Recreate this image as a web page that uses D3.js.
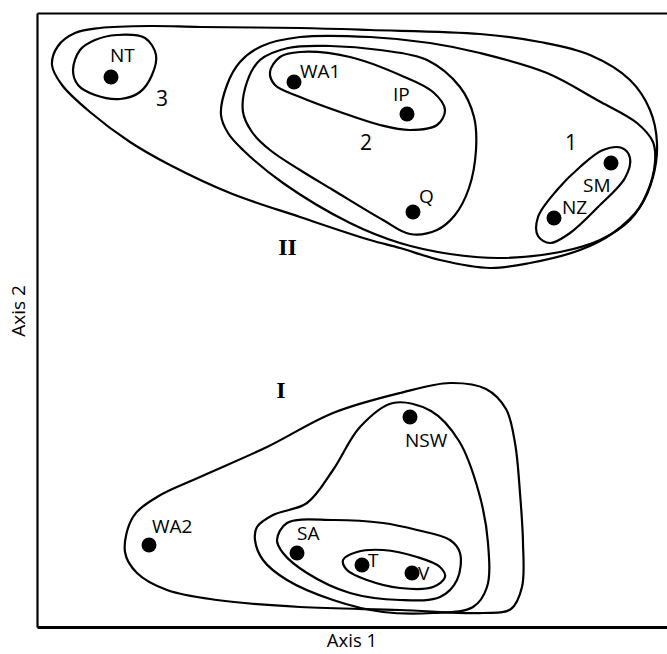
<!DOCTYPE html>
<html><head><meta charset="utf-8">
<script src="https://cdn.jsdelivr.net/npm/d3@7"></script>
<style>body{margin:0;background:#fff}svg{display:block}</style>
</head><body><svg id="c" width="667" height="654"></svg>
<script>
// ---- data (axis units) ----
const pointNames = ["NT","WA1","IP","Q","SM","NZ","NSW","WA2","SA","T","V"];
const pointX = [7.4, 25.7, 37.0, 37.6, 57.4, 51.7, 37.3, 11.2, 26.0, 32.5, 37.5];
const pointY = [55.0, 54.5, 51.3, 41.5, 46.4, 40.9, 21.0, 8.2, 7.4, 6.2, 5.4];

const loopNT = [[3.6,55.7],[4.3,57.7],[5.8,58.7],[8.0,59.2],[10.8,58.9],[11.9,57.2],[11.5,55.2],[10.3,53.5],[8.3,52.8],[5.8,53.2],[4.1,54.2]];
const loop3 = [[1.5,56.2],[2.1,58.1],[3.8,59.4],[6.3,59.9],[11.3,60.1],[16.3,60.0],[26.3,59.9],[33.3,59.7],[44.3,59.3],[50.3,58.5],[55.3,57.2],[59.3,54.7],[61.3,51.7],[62.0,48.4],[61.6,45.0],[60.3,42.0],[57.6,39.4],[54.3,37.7],[49.3,36.4],[45.3,35.9],[40.3,36.7],[36.3,37.9],[33.3,38.7],[26.3,41.0],[19.3,43.4],[13.3,46.2],[9.3,48.5],[5.3,51.5],[2.5,54.2]];
const loopII = [[18.4,51.2],[19.0,54.2],[20.3,56.5],[22.5,58.1],[26.3,59.0],[33.3,59.0],[39.3,58.4],[44.3,57.4],[51.0,55.4],[56.0,52.7],[60.0,50.4],[61.6,48.5],[61.8,46.5],[61.0,43.4],[59.3,40.7],[56.3,38.7],[52.3,37.5],[46.3,36.9],[41.3,37.3],[36.3,38.4],[31.3,40.4],[24.6,44.4],[20.6,47.7],[19.1,49.4]];
const loop2 = [[20.6,51.5],[21.0,54.5],[22.3,56.7],[25.1,57.9],[29.3,58.1],[34.3,57.7],[39.0,56.7],[42.3,54.0],[43.7,51.0],[43.9,47.7],[43.2,43.9],[41.8,41.2],[40.0,39.7],[37.3,39.3],[34.6,40.7],[29.6,43.7],[26.3,45.7],[23.3,47.7],[21.5,49.5]];
const loopWA1IP = [[23.3,55.5],[24.3,57.0],[26.3,57.5],[31.3,57.0],[36.3,55.2],[39.6,53.5],[40.8,51.7],[40.0,50.2],[37.3,49.7],[34.3,50.2],[30.3,51.5],[26.3,53.0],[23.8,54.2]];
const loop1 = [[56.6,47.7],[58.5,47.9],[59.3,46.9],[58.8,44.9],[56.1,42.0],[53.3,39.4],[51.3,38.4],[50.1,39.1],[50.1,41.0],[52.0,43.7],[54.3,46.0]];
const loopI = [[8.8,7.5],[9.6,11.0],[12.0,13.0],[16.3,15.0],[23.0,18.0],[29.6,21.4],[36.3,23.4],[41.3,24.4],[44.9,23.8],[46.9,21.8],[47.8,18.4],[48.3,13.4],[48.6,8.4],[48.5,4.0],[47.4,1.8],[44.6,1.4],[36.3,1.7],[26.3,2.0],[18.0,2.7],[13.0,3.7],[10.0,5.4]];
const loopNSW = [[35.6,22.4],[39.4,21.6],[42.2,18.6],[44.2,13.4],[45.1,8.4],[45.0,4.0],[43.6,2.0],[39.6,1.4],[34.6,1.5],[29.6,2.7],[25.0,4.7],[22.6,6.7],[21.8,8.7],[22.0,10.0],[23.6,11.2],[27.0,12.4],[29.6,15.7],[32.3,20.0]];
const loopSA = [[25.0,10.4],[29.6,10.7],[34.6,10.4],[38.0,9.7],[41.3,8.7],[42.3,7.4],[42.0,4.7],[40.3,3.0],[36.3,2.7],[31.3,3.4],[27.0,5.4],[24.6,7.4],[24.0,8.7]];
const loopTV = [[30.6,6.7],[32.0,7.5],[34.6,7.7],[38.0,7.0],[40.3,6.0],[40.8,5.0],[39.6,4.0],[36.3,3.9],[33.0,4.7],[31.0,5.7]];

const groupLabels = ["3","2","1","II","I"];
const groupLabelX = [12.5, 32.9, 53.4, 25.05, 24.4];
const groupLabelY = [52.1, 47.7, 47.7, 37.2, 22.9];

const axisTitles = ["Axis 1","Axis 2"];

// ---- styling ----
const labelOffset = {NT:[-1,-15],WA1:[6,-4],IP:[-14,-13],Q:[6,-9],SM:[-28,29],NZ:[8,-4],NSW:[-5,30],WA2:[3,-12],SA:[0,-13],T:[6,2],V:[6,7]};
const groupStyle = {"3":"num","2":"num","1":"num","II":"roman","I":"roman"};

const svg = d3.select("#c");
const x = d3.scaleLinear().domain([0,63]).range([37,667]);
const y = d3.scaleLinear().domain([0,61.4]).range([627,13]);

// frame
const gL = svg.append("g").attr("transform","translate(37,0)")
  .call(d3.axisLeft(y).tickValues([]).tickSizeOuter(0));
const gT = svg.append("g").attr("transform","translate(0,13)")
  .call(d3.axisTop(x).tickValues([]).tickSizeOuter(0));
const gB = svg.append("g").attr("transform","translate(0,627)")
  .call(d3.axisBottom(x).tickValues([]).tickSizeOuter(0));
gL.select(".domain").attr("stroke","#000").attr("stroke-width",2.2);
gT.select(".domain").attr("stroke","#000").attr("stroke-width",2.2);
gB.select(".domain").attr("stroke","#000").attr("stroke-width",3.2);

// contours
const line = d3.line().x(d=>x(d[0])).y(d=>y(d[1])).curve(d3.curveCatmullRomClosed.alpha(0.5));
const loops = [loop3, loopII, loop2, loopWA1IP, loop1, loopNT, loopI, loopNSW, loopSA, loopTV];
svg.append("g").selectAll("path").data(loops).join("path")
  .attr("d", line).attr("fill","none").attr("stroke","#000").attr("stroke-width",2.2);

// points
const pts = pointNames.map((n,i)=>({n, x:pointX[i], y:pointY[i]}));
svg.append("g").selectAll("circle").data(pts).join("circle")
  .attr("cx",d=>x(d.x)).attr("cy",d=>y(d.y)).attr("r",7.5).attr("fill","#000");
svg.append("g").selectAll("text").data(pts).join("text")
  .attr("x",d=>x(d.x)+labelOffset[d.n][0]).attr("y",d=>y(d.y)+labelOffset[d.n][1])
  .attr("font-family","'Open Sans', sans-serif").attr("font-size",19).attr("fill","#000")
  .text(d=>d.n);

// group labels
const gl = groupLabels.map((t,i)=>({t, x:groupLabelX[i], y:groupLabelY[i]}));
svg.append("g").selectAll("text").data(gl).join("text")
  .attr("x",d=>x(d.x)).attr("y",d=>y(d.y)).attr("text-anchor","middle")
  .attr("font-family",d=>groupStyle[d.t]==="roman"?"'Liberation Serif', 'Times New Roman', serif":"'Open Sans', sans-serif")
  .attr("font-weight",d=>groupStyle[d.t]==="roman"?"bold":"normal")
  .attr("font-size",d=>groupStyle[d.t]==="roman"?24:21)
  .attr("fill","#000").text(d=>d.t);

// axis titles
svg.append("text").attr("x",(x.range()[0]+x.range()[1])/2).attr("y",647)
  .attr("text-anchor","middle").attr("font-family","'Open Sans', sans-serif").attr("font-size",18.5)
  .text(axisTitles[0]);
svg.append("text").attr("transform",`translate(25,${(y.range()[0]+y.range()[1])/2 - 9}) rotate(-90)`)
  .attr("text-anchor","middle").attr("font-family","'Open Sans', sans-serif").attr("font-size",19)
  .text(axisTitles[1]);
</script></body></html>
